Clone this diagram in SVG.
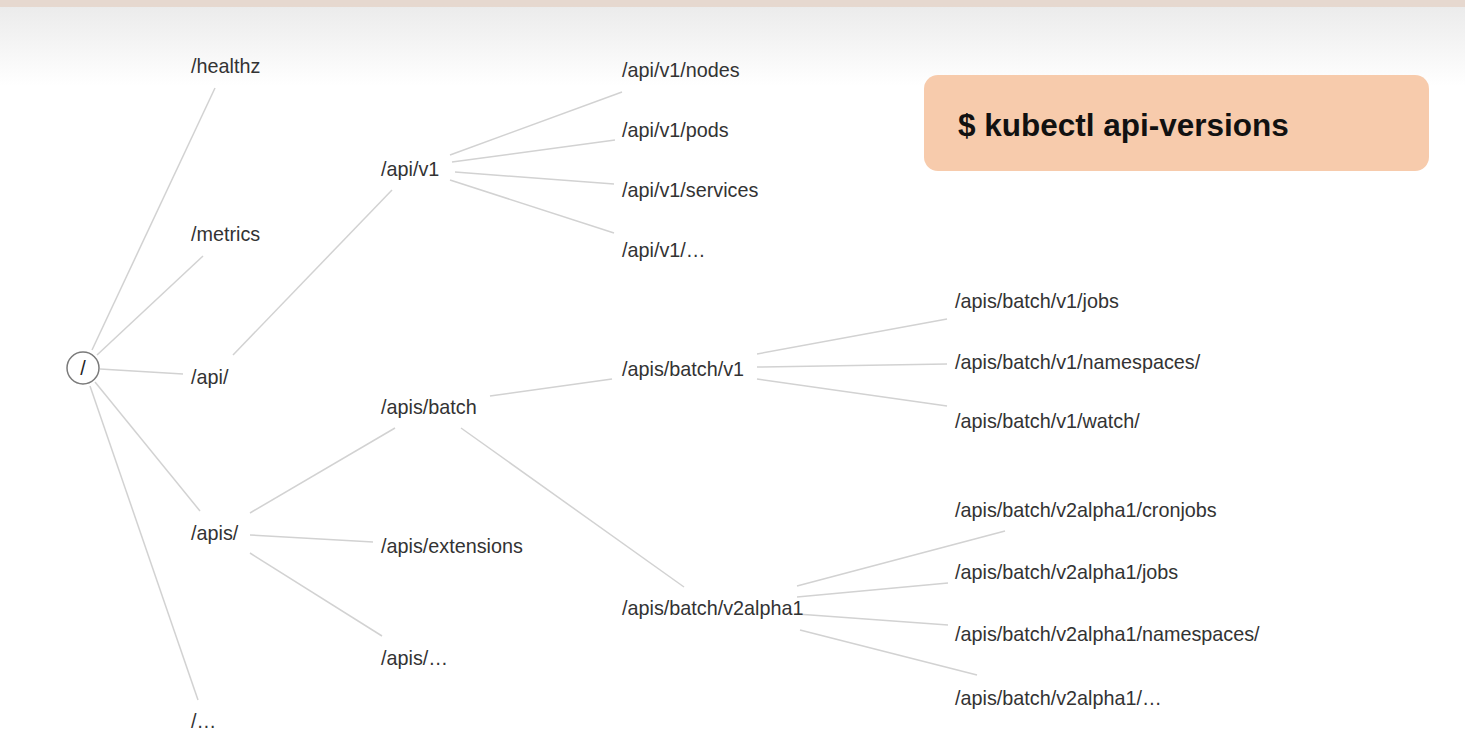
<svg xmlns="http://www.w3.org/2000/svg" width="1465" height="740" viewBox="0 0 1465 740">
<defs>
<linearGradient id="bg" x1="0" y1="0" x2="0" y2="1">
<stop offset="0" stop-color="#ebebeb"/>
<stop offset="1" stop-color="#ffffff"/>
</linearGradient>
<style>
.t{font-family:"Liberation Sans",Arial,sans-serif;font-size:19.8px;fill:#333333;}
.c line{stroke:#d2d2d2;stroke-width:1.5;}
.cmd{font-family:"Liberation Sans",Arial,sans-serif;font-size:31.5px;font-weight:bold;fill:#111111;}
</style>
</defs>
<rect x="0" y="0" width="1465" height="740" fill="#ffffff"/>
<rect x="0" y="6" width="1465" height="80" fill="url(#bg)"/>
<rect x="0" y="0" width="1465" height="7" fill="#e6d8cf"/>
<g id="connectors" class="c">
<line x1="92" y1="350" x2="215" y2="88"/>
<line x1="97" y1="355" x2="203" y2="256"/>
<line x1="100" y1="369" x2="183" y2="374"/>
<line x1="95" y1="382" x2="200" y2="511"/>
<line x1="90" y1="386" x2="198" y2="700"/>
<line x1="233" y1="355" x2="392" y2="190"/>
<line x1="450" y1="155" x2="622" y2="92"/>
<line x1="452" y1="162" x2="615" y2="140"/>
<line x1="455" y1="172" x2="614" y2="184"/>
<line x1="450" y1="180" x2="614" y2="233"/>
<line x1="250" y1="513" x2="395" y2="428"/>
<line x1="250" y1="535" x2="373" y2="542"/>
<line x1="250" y1="553" x2="382" y2="636"/>
<line x1="490" y1="396" x2="612" y2="379"/>
<line x1="461" y1="428" x2="684" y2="587"/>
<line x1="757" y1="354" x2="947" y2="319"/>
<line x1="757" y1="367" x2="947" y2="364"/>
<line x1="757" y1="379" x2="947" y2="406"/>
<line x1="797" y1="586" x2="1005" y2="531"/>
<line x1="797" y1="597" x2="948" y2="583"/>
<line x1="797" y1="614" x2="948" y2="625"/>
<line x1="800" y1="630" x2="977" y2="675"/>
</g>
<g id="root">
<circle cx="83" cy="368" r="16" fill="#ffffff" stroke="#7a7a7a" stroke-width="1.5"/>
<text x="83" y="375" class="t" text-anchor="middle" style="fill:#222">/</text>
</g>
<g id="healthz"><text x="191" y="73" class="t">/healthz</text></g>
<g id="metrics"><text x="191" y="241" class="t">/metrics</text></g>
<g id="api"><text x="191" y="384" class="t">/api/</text></g>
<g id="apis"><text x="191" y="540" class="t">/apis/</text></g>
<g id="other"><text x="191" y="728" class="t">/…</text></g>
<g id="api-v1"><text x="381" y="176" class="t">/api/v1</text></g>
<g id="api-v1-nodes"><text x="622" y="77" class="t">/api/v1/nodes</text></g>
<g id="api-v1-pods"><text x="622" y="137" class="t">/api/v1/pods</text></g>
<g id="api-v1-services"><text x="622" y="197" class="t">/api/v1/services</text></g>
<g id="api-v1-more"><text x="622" y="257" class="t">/api/v1/…</text></g>
<g id="apis-batch"><text x="381" y="414" class="t">/apis/batch</text></g>
<g id="apis-extensions"><text x="381" y="553" class="t">/apis/extensions</text></g>
<g id="apis-more"><text x="381" y="665" class="t">/apis/…</text></g>
<g id="batch-v1"><text x="622" y="376" class="t">/apis/batch/v1</text></g>
<g id="batch-v2alpha1"><text x="622" y="615" class="t">/apis/batch/v2alpha1</text></g>
<g id="v1-jobs"><text x="955" y="308" class="t">/apis/batch/v1/jobs</text></g>
<g id="v1-namespaces"><text x="955" y="369" class="t">/apis/batch/v1/namespaces/</text></g>
<g id="v1-watch"><text x="955" y="428" class="t">/apis/batch/v1/watch/</text></g>
<g id="v2-cronjobs"><text x="955" y="517" class="t">/apis/batch/v2alpha1/cronjobs</text></g>
<g id="v2-jobs"><text x="955" y="579" class="t">/apis/batch/v2alpha1/jobs</text></g>
<g id="v2-namespaces"><text x="955" y="641" class="t">/apis/batch/v2alpha1/namespaces/</text></g>
<g id="v2-more"><text x="955" y="705" class="t">/apis/batch/v2alpha1/…</text></g>
<g id="command">
<rect x="924" y="75" width="505" height="96" rx="14" fill="#f7cbac"/>
<text x="958" y="136" class="cmd">$ kubectl api-versions</text>
</g>
</svg>
